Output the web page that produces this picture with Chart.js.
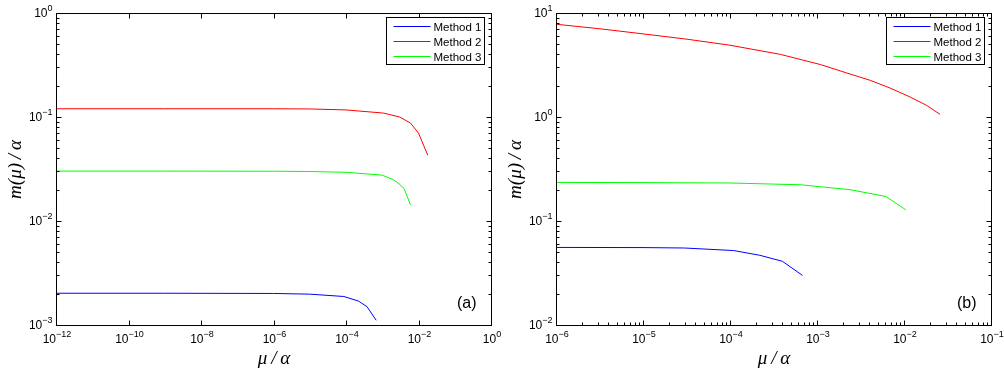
<!DOCTYPE html>
<html>
<head>
<meta charset="utf-8">
<script src="https://cdn.jsdelivr.net/npm/chart.js@4.4.1/dist/chart.umd.min.js"></script>
<style>
  html, body { margin: 0; padding: 0; background: #fff; }
  #wrap { position: relative; width: 1004px; height: 370px; }
  canvas { position: absolute; top: 0; }
</style>
</head>
<body>
<div id="wrap">
  <canvas id="chartA" width="510" height="370" style="left:0"></canvas>
  <canvas id="chartB" width="504" height="370" style="left:500px"></canvas>
</div>
<script>
// legend names and tick exponents
var methods = ['Method 1', 'Method 2', 'Method 3'];
var colors = ['#0000ff', '#ff0000', '#00ff00'];

var xExpA = [-12, -10, -8, -6, -4, -2, 0];
var yExpA = [-3, -2, -1, 0];
var xExpB = [-6, -5, -4, -3, -2, -1];
var yExpB = [-2, -1, 0, 1];

// panel (a) values
var m1aX = [1e-12, 1e-9, 1e-6, 1e-5, 8.7e-5, 2.2e-4, 3.8e-4, 6.8e-4];
var m1aY = [0.00202, 0.00202, 0.00201, 0.00198, 0.00188, 0.0017, 0.0015, 0.00111];
var m2aX = [1e-12, 1e-9, 1e-6, 1e-5, 1e-4, 1.1e-3, 3e-3, 6e-3, 1e-2, 1.8e-2];
var m2aY = [0.12, 0.12, 0.12, 0.1195, 0.117, 0.109, 0.1, 0.0875, 0.07, 0.043];
var m3aX = [1e-12, 1e-9, 1e-6, 1e-5, 1e-4, 1e-3, 2e-3, 2.9e-3, 4e-3, 6e-3];
var m3aY = [0.0302, 0.0302, 0.0301, 0.0299, 0.0294, 0.0276, 0.025, 0.0228, 0.0205, 0.0143];

// panel (b) values
var m1bX = [1e-6, 1e-5, 3e-5, 1.1e-4, 2.2e-4, 4e-4, 6.8e-4];
var m1bY = [0.0557, 0.0555, 0.055, 0.052, 0.0468, 0.041, 0.030];
var m2bX = [1e-6, 3.2e-6, 1e-5, 3.2e-5, 1e-4, 3.8e-4, 1.1e-3, 2.2e-3, 4.1e-3, 6.9e-3, 1.17e-2, 1.8e-2, 2.6e-2];
var m2bY = [7.8, 7.05, 6.3, 5.6, 4.9, 4.0, 3.19, 2.65, 2.25, 1.9, 1.56, 1.3, 1.06];
var m3bX = [1e-6, 1e-5, 1e-4, 6.5e-4, 2.4e-3, 6.2e-3, 1.05e-2];
var m3bY = [0.235, 0.234, 0.232, 0.223, 0.2, 0.172, 0.128];

function pts(xs, ys) {
    return xs.map(function (x, i) { return { x: x, y: ys[i] }; });
}

var baseFont = '12px "Liberation Sans", Arial, sans-serif';
var supFont = '9px "Liberation Sans", Arial, sans-serif';

function drawPow(ctx, x, y, exp, align) {
    var base = '10', sup = exp < 0 ? '\u2212' + (-exp) : String(exp);
    ctx.font = baseFont;
    var wb = ctx.measureText(base).width;
    ctx.font = supFont;
    var ws = ctx.measureText(sup).width;
    var left = align === 'right' ? x - wb - ws : x - (wb + ws) / 2;
    ctx.textAlign = 'left';
    ctx.textBaseline = 'alphabetic';
    ctx.font = baseFont;
    ctx.fillText(base, left, y);
    ctx.font = supFont;
    ctx.fillText(sup, left + wb, y - 6);
}

var matlabAxes = {
    id: 'matlabAxes',
    afterDraw: function (chart, args, opts) {
        var ctx = chart.ctx, a = chart.chartArea;
        var xs = chart.scales.x, ys = chart.scales.y;
        var L = Math.round(a.left) + 0.5, R = Math.round(a.right) + 0.5;
        var T = Math.round(a.top) + 0.5, B = Math.round(a.bottom) + 0.5;
        ctx.save();
        ctx.strokeStyle = '#000';
        ctx.fillStyle = '#000';
        ctx.lineWidth = 1;
        ctx.strokeRect(L, T, R - L, B - T);

        function ticksFor(scale, exps, minor, horiz) {
            ctx.beginPath();
            for (var e = exps[0]; e <= exps[exps.length - 1]; e++) {
                var list = [];
                if (exps.indexOf(e) >= 0) list.push([Math.pow(10, e), 5]);
                if (minor && e < exps[exps.length - 1]) {
                    for (var m = 2; m <= 9; m++) list.push([m * Math.pow(10, e), 3]);
                }
                list.forEach(function (t) {
                    var p = Math.round(scale.getPixelForValue(t[0])) + 0.5;
                    if (horiz) {
                        ctx.moveTo(p, B); ctx.lineTo(p, B - t[1]);
                        ctx.moveTo(p, T); ctx.lineTo(p, T + t[1]);
                    } else {
                        ctx.moveTo(L, p); ctx.lineTo(L + t[1], p);
                        ctx.moveTo(R, p); ctx.lineTo(R - t[1], p);
                    }
                });
            }
            ctx.stroke();
        }
        ticksFor(xs, opts.xExp, opts.xMinor, true);
        ticksFor(ys, opts.yExp, true, false);

        opts.xExp.forEach(function (e) {
            drawPow(ctx, xs.getPixelForValue(Math.pow(10, e)) + 1, B + 17, e, 'center');
        });
        opts.yExp.forEach(function (e) {
            drawPow(ctx, L - 4, ys.getPixelForValue(Math.pow(10, e)) + 4, e, 'right');
        });

        // axis titles
        ctx.font = 'italic 19px "Liberation Serif", "Times New Roman", serif';
        ctx.textAlign = 'center';
        ctx.textBaseline = 'middle';
        ctx.fillText('\u03bc\u2009/\u2009\u03b1', (L + R) / 2, 359);
        ctx.save();
        ctx.translate(16, (T + B) / 2);
        ctx.rotate(-Math.PI / 2);
        ctx.fillText('m(\u03bc)\u2009/\u2009\u03b1', 0, 0);
        ctx.restore();

        // panel letter
        ctx.font = '16px "Liberation Sans", Arial, sans-serif';
        ctx.textAlign = 'right';
        ctx.fillText(opts.tag, R - 15, B - 22);

        // legend box
        var lx = R - 105, ly = T + 4, lw = 98, lh = 47;
        ctx.fillStyle = '#fff';
        ctx.fillRect(lx, ly, lw, lh);
        ctx.strokeStyle = '#000';
        ctx.strokeRect(lx, ly, lw, lh);
        ctx.font = '11.5px "Liberation Sans", Arial, sans-serif';
        ctx.textAlign = 'left';
        ctx.textBaseline = 'middle';
        chart.data.datasets.forEach(function (ds, i) {
            var yy = ly + 9 + i * 15;
            ctx.strokeStyle = ds.borderColor;
            ctx.beginPath();
            ctx.moveTo(lx + 7, yy); ctx.lineTo(lx + 44, yy);
            ctx.stroke();
            ctx.fillStyle = '#000';
            ctx.fillText(ds.label, lx + 47, yy + 1);
        });
        ctx.restore();
    }
};

function makeChart(id, series, xr, yr, padRight, axesOpts) {
    var ctx = document.getElementById(id).getContext('2d');
    return new Chart(ctx, {
        type: 'line',
        data: {
            datasets: series.map(function (s, i) {
                return {
                    label: methods[i],
                    data: s,
                    borderColor: colors[i],
                    borderWidth: 1,
                    pointRadius: 0,
                    tension: 0,
                    fill: false
                };
            })
        },
        options: {
            responsive: false,
            animation: false,
            layout: { padding: { top: 13, right: padRight, left: 0, bottom: 0 } },
            plugins: {
                legend: { display: false },
                tooltip: { enabled: false },
                matlabAxes: axesOpts
            },
            scales: {
                x: {
                    type: 'logarithmic',
                    min: xr[0], max: xr[1],
                    grid: { display: false },
                    border: { display: false },
                    ticks: { display: false },
                    afterFit: function (s) { s.height = 45; }
                },
                y: {
                    type: 'logarithmic',
                    min: yr[0], max: yr[1],
                    grid: { display: false },
                    border: { display: false },
                    ticks: { display: false },
                    afterFit: function (s) { s.width = 56; }
                }
            }
        },
        plugins: [matlabAxes]
    });
}

makeChart('chartA',
    [pts(m1aX, m1aY), pts(m2aX, m2aY), pts(m3aX, m3aY)],
    [1e-12, 1], [1e-3, 1], 19,
    { xExp: xExpA, yExp: yExpA, xMinor: false, tag: '(a)' });

makeChart('chartB',
    [pts(m1bX, m1bY), pts(m2bX, m2bY), pts(m3bX, m3bY)],
    [1e-6, 1e-1], [1e-2, 10], 13,
    { xExp: xExpB, yExp: yExpB, xMinor: true, tag: '(b)' });
</script>
</body>
</html>
